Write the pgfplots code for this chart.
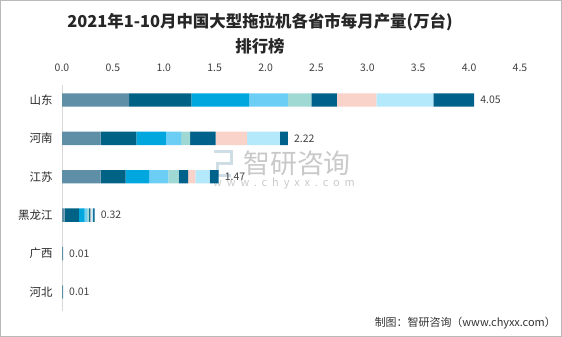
\documentclass[border=0pt]{standalone}
\usepackage{fontspec}
\setmainfont{Noto Sans CJK SC}
\usepackage{pgfplots}
\pgfplotsset{compat=1.18}
\definecolor{c1}{HTML}{5F8FA6}
\definecolor{c2}{HTML}{006285}
\definecolor{c3}{HTML}{00A7DE}
\definecolor{c4}{HTML}{6CCEF5}
\definecolor{c5}{HTML}{A0D8D4}
\definecolor{c6}{HTML}{00628A}
\definecolor{c7}{HTML}{F9D2C9}
\definecolor{c8}{HTML}{B4E9FB}
\definecolor{c9}{HTML}{00628A}
\definecolor{txt}{HTML}{404040}
\definecolor{wm}{HTML}{C9C9C9}
\pgfplotsset{geom/.style={
  at={(62bp,25.8bp)}, anchor=south west,
  scale only axis, width=458bp, height=226.6bp,
  xmin=0, xmax=4.5, ymin=-0.5, ymax=5.4, clip=false}}
\begin{document}
\begin{tikzpicture}
\useasboundingbox (0,0) rectangle (562bp,337bp);
\draw[gray!55, line width=1bp] (0.5bp,0.5bp) rectangle (561.5bp,336.5bp);
\node[font=\bfseries\fontsize{16.5}{18}\selectfont, text=black!85] at (260bp,315bp) {2021年1-10月中国大型拖拉机各省市每月产量(万台)};
\node[font=\bfseries\fontsize{16.5}{18}\selectfont, text=black!85] at (260bp,291bp) {排行榜};
% watermark
\node[font=\fontsize{27}{30}\selectfont, text=wm, anchor=west, inner sep=0pt] at (243bp,174bp) {智研咨询};
\node[font=\fontsize{11}{12}\selectfont, text=wm, anchor=west, inner sep=0pt] at (213bp,154bp) {\addfontfeature{LetterSpace=45}www.chyxx.com};
\draw[line width=3bp, color=c1!30] (214bp,185bp) -- (231bp,185bp) -- (231bp,173bp) -- (217bp,173bp) -- (217bp,161bp) -- (231bp,161bp);
% source
\node[font=\fontsize{11}{12}\selectfont, text=black!80, anchor=east, inner sep=0pt] at (556bp,14bp) {制图：智研咨询（www.chyxx.com）};
\begin{axis}[
  geom,
  xbar stacked, bar width=13.4bp,
  axis x line*=top, axis y line*=left,
  x axis line style={draw=none},
  y axis line style={draw=gray!30, line width=1bp},
  major tick length=0pt,
  xtick={0,0.5,...,4.5},
  /pgf/number format/assume math mode=true,
  xticklabel={\pgfmathprintnumber[fixed,fixed zerofill,precision=1]{\tick}},
  xticklabel style={font=\fontsize{10.5}{11}\selectfont, text=txt, yshift=9bp},
  ytick={0,1,2,3,4,5},
  yticklabels={河北,广西,黑龙江,江苏,河南,山东},
  yticklabel style={font=\fontsize{11.5}{12}\selectfont, text=black!85, xshift=-6bp},
  every axis plot/.append style={draw=none},
]
\addplot[fill=c1] coordinates {(0.66,5) (0.38,4) (0.38,3) (0.027,2) (0.01,1) (0.01,0)};
\addplot[fill=c2] coordinates {(0.61,5) (0.35,4) (0.245,3) (0.14,2) (0,1) (0,0)};
\addplot[fill=c3] coordinates {(0.57,5) (0.29,4) (0.23,3) (0.056,2) (0,1) (0,0)};
\addplot[fill=c4] coordinates {(0.38,5) (0.15,4) (0.19,3) (0.023,2) (0,1) (0,0)};
\addplot[fill=c5] coordinates {(0.23,5) (0.09,4) (0.10,3) (0.02,2) (0,1) (0,0)};
\addplot[fill=c6] coordinates {(0.25,5) (0.25,4) (0.095,3) (0.013,2) (0,1) (0,0)};
\addplot[fill=c7] coordinates {(0.39,5) (0.31,4) (0.07,3) (0.01,2) (0,1) (0,0)};
\addplot[fill=c8] coordinates {(0.56,5) (0.32,4) (0.14,3) (0.016,2) (0,1) (0,0)};
\addplot[fill=c9] coordinates {(0.40,5) (0.08,4) (0.088,3) (0.016,2) (0,1) (0,0)};
\end{axis}
\begin{axis}[geom, hide axis]
\addplot[draw=none, mark=none, nodes near coords={\pgfplotspointmeta}, point meta=explicit symbolic,
  nodes near coords style={font=\fontsize{10.5}{11}\selectfont, text=txt, anchor=west, inner sep=0pt, xshift=6bp}]
  coordinates {(4.05,5) [4.05] (2.22,4) [2.22] (1.54,3) [1.47] (0.321,2) [0.32] (0.01,1) [0.01] (0.01,0) [0.01]};
\end{axis}
\end{tikzpicture}
\end{document}
